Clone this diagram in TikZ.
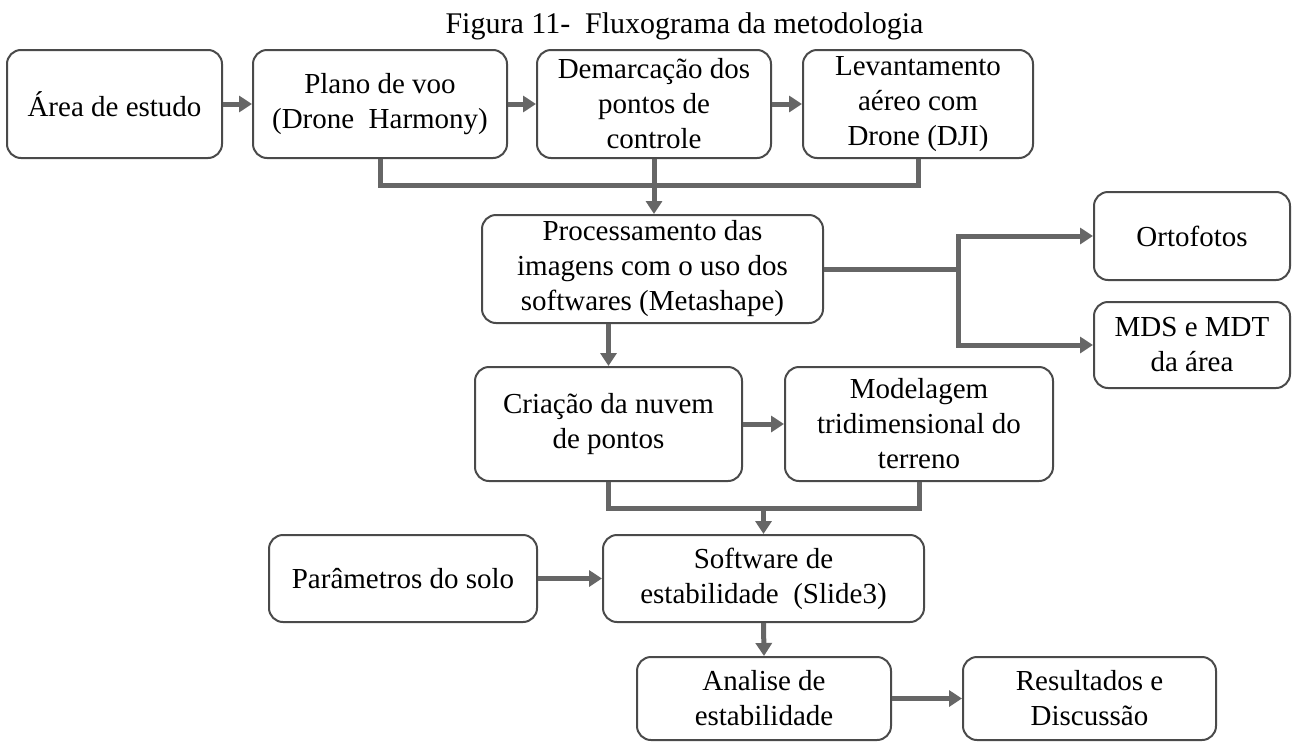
\documentclass[tikz,border=0pt]{standalone}
\usepackage{fontspec}
\setmainfont{Liberation Serif}
\usetikzlibrary{arrows.meta}
\definecolor{boxgray}{HTML}{4A4A4A}
\definecolor{lngray}{HTML}{666666}
\begin{document}
\begin{tikzpicture}[x=1pt,y=-1pt,
  box/.style={draw=boxgray, line width=2pt, rounded corners=14pt, inner sep=0pt,
    align=center, font=\fontsize{29}{35}\selectfont},
  ln/.style={draw=lngray, line width=5pt},
  arr/.style={draw=lngray, line width=5pt, -{Triangle[length=13pt,width=16pt]}}]
\useasboundingbox (0,0) rectangle (1292,742);
\node[anchor=base west, font=\fontsize{30}{36}\selectfont] (title) at (442,33) {Figura 11-\ \ Fluxograma da metodologia};
\node[box, minimum width=215pt, minimum height=108pt] (A) at (114.5,104) {Área de estudo};
\node[box, minimum width=254pt, minimum height=108pt] (B) at (380,104) {Plano de voo\\(Drone\ \ Harmony)};
\node[box, minimum width=234pt, minimum height=108pt] (C) at (654,104) {Demarcação dos\\pontos de\\controle};
\node[box, minimum width=230pt, minimum height=108pt] (D) at (918,104) {Levantamento\\aéreo com\\Drone (DJI)};
\node[box, minimum width=341pt, minimum height=108pt] (E) at (652.5,269) {Processamento das\\imagens com o uso dos\\softwares (Metashape)};
\node[box, minimum width=196pt, minimum height=88pt] (F) at (1192,236) {Ortofotos};
\node[box, minimum width=196pt, minimum height=86pt] (G) at (1192,345) {MDS e MDT\\da área};
\node[box, minimum width=267pt, minimum height=114pt] (H) at (608.5,424) {Criação da nuvem\\de pontos};
\node[box, minimum width=268pt, minimum height=114pt] (I) at (919,424) {Modelagem\\tridimensional do\\terreno};
\node[box, minimum width=321pt, minimum height=87pt] (J) at (763.5,578.5) {Software de\\estabilidade\ \ (Slide3)};
\node[box, minimum width=268pt, minimum height=87pt] (K) at (403,578.5) {Parâmetros do solo};
\node[box, minimum width=254pt, minimum height=83pt] (L) at (764,698.5) {Analise de\\estabilidade};
\node[box, minimum width=253pt, minimum height=83pt] (M) at (1089.5,698.5) {Resultados e\\Discussão};
% row 1
\draw[arr] (A) -- (B);
\draw[arr] (B) -- (C);
\draw[arr] (C) -- (D);
\coordinate (j1) at (380,185);
\draw[ln] (B.south) -- (j1) -| (D.south);
\draw[arr] (C.south) -- (C.south |- E.north);
% E outputs
\coordinate (s1) at (958,269);
\draw[ln] (E.east) -- (s1);
\draw[arr] (s1) |- (F.west);
\draw[arr] (s1) |- (G.west);
\draw[arr] (H.north |- E.south) -- (H.north);
\draw[arr] (H) -- (I);
% row 3 junction
\coordinate (j2) at (608.5,508);
\draw[ln] (H.south) -- (j2) -| (I.south);
\draw[arr] (J.north |- j2) -- (J.north);
\draw[arr] (K) -- (J);
\draw[arr] (J.south) -- (L.north);
\draw[arr] (L) -- (M);
\end{tikzpicture}
\end{document}
